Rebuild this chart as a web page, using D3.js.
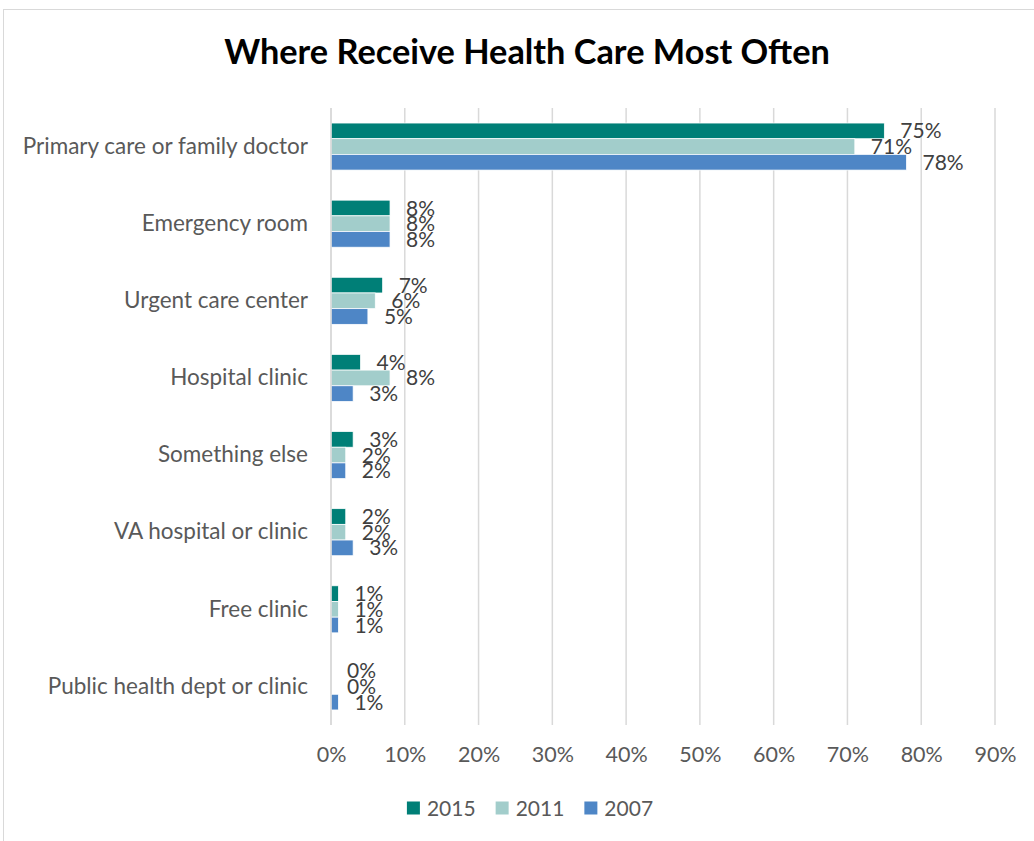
<!DOCTYPE html>
<html>
<head>
<meta charset="utf-8">
<script src="https://cdn.jsdelivr.net/npm/d3@7"></script>
<style>
  html, body { margin: 0; padding: 0; background: #fff; }
  svg { display: block; font-family: Lato, "Open Sans", sans-serif; }
</style>
</head>
<body>
<svg id="chart" width="1034" height="841"></svg>
<script>
const title = "Where Receive Health Care Most Often";
const categories = [
  "Primary care or family doctor",
  "Emergency room",
  "Urgent care center",
  "Hospital clinic",
  "Something else",
  "VA hospital or clinic",
  "Free clinic",
  "Public health dept or clinic"
];
const seriesNames = ["2015", "2011", "2007"];
const values2015 = [75, 8, 7, 4, 3, 2, 1, 0];
const values2011 = [71, 8, 6, 8, 2, 2, 1, 0];
const values2007 = [78, 8, 5, 3, 2, 3, 1, 1];
const seriesColors = ["#007F77", "#A2CDCB", "#4E86C6"];
const xTicks = [0, 10, 20, 30, 40, 50, 60, 70, 80, 90];

const seriesValues = [values2015, values2011, values2007];
const svg = d3.select("#chart");

// outer frame
svg.append("rect")
  .attr("x", 3.5).attr("y", 9.5)
  .attr("width", 1100).attr("height", 900)
  .attr("fill", "none").attr("stroke", "#d9d9d9").attr("stroke-width", 1);

const x = d3.scaleLinear().domain([0, 90]).range([331, 995]);
const y0 = d3.scaleBand().domain(categories).range([108, 725])
  .paddingInner(0.39).paddingOuter(0.195);
const y1 = d3.scaleBand().domain(seriesNames).range([0, y0.bandwidth()]);

// gridlines
svg.append("g").selectAll("line").data(xTicks).join("line")
  .attr("x1", d => x(d)).attr("x2", d => x(d))
  .attr("y1", 108).attr("y2", 725)
  .attr("stroke", "#d9d9d9").attr("stroke-width", 1.5);

// x axis labels
const xAxis = d3.axisBottom(x).tickValues(xTicks).tickFormat(d => d + "%").tickSize(0).tickPadding(0);
const gx = svg.append("g").attr("transform", "translate(0,725)").call(xAxis);
gx.select(".domain").remove();
gx.selectAll("text")
  .attr("y", 37).attr("dy", 0)
  .attr("fill", "#595959").style("font-size", "21.5px").style("font-family", "Lato, sans-serif");

// y axis labels
const yAxis = d3.axisLeft(y0).tickSize(0).tickPadding(23);
const gy = svg.append("g").attr("transform", "translate(331,0)").call(yAxis);
gy.select(".domain").remove();
gy.selectAll("text")
  .attr("fill", "#595959").style("font-size", "22.5px").style("font-family", "Lato, sans-serif");

// bars
const rows = categories.map((c, i) => ({ cat: c, vals: seriesNames.map((s, j) => ({ s, v: seriesValues[j][i], c: seriesColors[j] })) }));
const groups = svg.append("g").selectAll("g").data(rows).join("g")
  .attr("transform", d => `translate(0,${y0(d.cat)})`);
groups.selectAll("rect").data(d => d.vals).join("rect")
  .attr("x", x(0))
  .attr("y", d => y1(d.s))
  .attr("width", d => x(d.v) - x(0))
  .attr("height", y1.bandwidth())
  .attr("fill", d => d.c)
  .attr("stroke", "#ffffff").attr("stroke-width", 0.75);

// data labels
groups.selectAll("text").data(d => d.vals).join("text")
  .attr("x", d => x(d.v) + 16)
  .attr("y", d => y1(d.s) + y1.bandwidth() / 2)
  .attr("dy", "0.36em")
  .attr("fill", "#404040")
  .style("font-size", "21px")
  .text(d => d.v + "%");

// y axis line overlays bars
svg.append("line")
  .attr("x1", x(0)).attr("x2", x(0)).attr("y1", 108).attr("y2", 725)
  .attr("stroke", "#d9d9d9").attr("stroke-width", 1.5);

// title
svg.append("text")
  .attr("x", 527).attr("y", 64)
  .attr("text-anchor", "middle")
  .attr("fill", "#000")
  .style("font-size", "34.3px").style("font-weight", "bold")
  .text(title);

// legend
const legend = svg.append("g");
const items = legend.selectAll("g").data(seriesNames).join("g");
items.append("rect").attr("width", 13).attr("height", 13).attr("y", -6.5)
  .attr("fill", (d, i) => seriesColors[i]);
items.append("text").attr("x", 20).attr("dy", "0.36em")
  .attr("fill", "#595959").style("font-size", "21px").text(d => d);
let widths = [];
items.each(function () { widths.push(this.getBBox().width); });
const gap = 20;
const total = d3.sum(widths) + gap * (widths.length - 1);
let cx = 530 - total / 2;
items.attr("transform", (d, i) => {
  const t = `translate(${cx},808)`;
  cx += widths[i] + gap;
  return t;
});
</script>
</body>
</html>
